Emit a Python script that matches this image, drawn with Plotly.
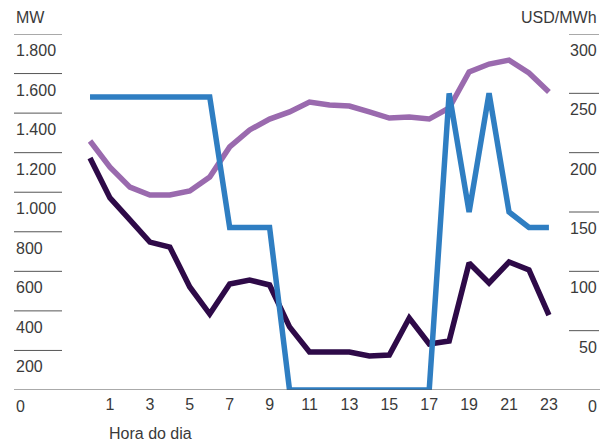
import plotly.graph_objects as go

# horas do dia (0 a 23)
horas = list(range(24))

# MW - linha roxa clara
demanda_mw = [1259, 1127, 1026, 986, 986, 1006, 1077, 1229, 1315, 1370, 1406, 1456,
              1441, 1436, 1406, 1375, 1380, 1370, 1426, 1608, 1648, 1668, 1603, 1507]
# MW - linha roxa escura
geracao_mw = [1173, 971, 860, 748, 723, 521, 384, 536, 556, 531, 319, 192,
              192, 192, 172, 177, 364, 233, 248, 642, 541, 647, 607, 379]
# USD/MWh - linha azul
preco_usd = [247, 247, 247, 247, 247, 247, 247, 137, 137, 137, 0, 0,
             0, 0, 0, 0, 0, 0, 250, 150, 250, 150, 137, 137]

x_ticks = [1, 3, 5, 7, 9, 11, 13, 15, 17, 19, 21, 23]
mw_ticks = [0, 200, 400, 600, 800, 1000, 1200, 1400, 1600, 1800]
mw_labels = ["0", "200", "400", "600", "800", "1.000", "1.200", "1.400", "1.600", "1.800"]
usd_ticks = [0, 50, 100, 150, 200, 250, 300]
usd_labels = ["0", "50", "100", "150", "200", "250", "300"]

W, H = 608, 446
FONT = "Liberation Sans, Arial, sans-serif"
TXT = "#3a3a3a"

fig = go.Figure()

fig.add_trace(go.Scatter(x=horas, y=demanda_mw, mode="lines", yaxis="y",
                         line=dict(color="#9A6AAE", width=5.5)))
fig.add_trace(go.Scatter(x=horas, y=geracao_mw, mode="lines", yaxis="y",
                         line=dict(color="#2E0A48", width=5.5)))
fig.add_trace(go.Scatter(x=horas, y=preco_usd, mode="lines", yaxis="y2",
                         line=dict(color="#2F7EC2", width=5.5)))

shapes = []
annots = []

# linhas curtas + rótulos do eixo esquerdo (MW)
for v, lab in zip(mw_ticks, mw_labels):
    if v > 0:
        shapes.append(dict(type="line", xref="paper", yref="y", x0=14 / W, x1=62 / W,
                           y0=v, y1=v, line=dict(color="#555555", width=1)))
    annots.append(dict(text=lab, xref="paper", yref="y", x=14 / W, y=v,
                       xanchor="left", yanchor="top", yshift=-6, showarrow=False,
                       font=dict(size=16, color=TXT, family=FONT)))

# linhas curtas + rótulos do eixo direito (USD/MWh)
for v, lab in zip(usd_ticks, usd_labels):
    if v > 0:
        shapes.append(dict(type="line", xref="paper", yref="y2", x0=569 / W, x1=599 / W,
                           y0=v, y1=v, line=dict(color="#555555", width=1)))
    annots.append(dict(text=lab, xref="paper", yref="y2", x=599 / W, y=v,
                       xanchor="right", yanchor="top", yshift=-6, showarrow=False,
                       font=dict(size=16, color=TXT, family=FONT)))

# linha base
shapes.append(dict(type="line", xref="paper", yref="y", x0=14 / W, x1=600 / W,
                   y0=0, y1=0, line=dict(color="#555555", width=1)))

# títulos dos eixos
annots.append(dict(text="MW", xref="paper", yref="paper", x=14 / W, y=(H - 17) / H,
                   xanchor="left", yanchor="middle", showarrow=False,
                   font=dict(size=16, color=TXT, family=FONT)))
annots.append(dict(text="USD/MWh", xref="paper", yref="paper", x=599 / W, y=(H - 17) / H,
                   xanchor="right", yanchor="middle", showarrow=False,
                   font=dict(size=16, color=TXT, family=FONT)))
annots.append(dict(text="Hora do dia", xref="paper", yref="paper", x=107 / W, y=(H - 433) / H,
                   xanchor="left", yanchor="middle", showarrow=False,
                   font=dict(size=16, color=TXT, family=FONT)))

fig.update_layout(
    width=W, height=H,
    margin=dict(l=0, r=0, t=0, b=0),
    paper_bgcolor="white", plot_bgcolor="white",
    showlegend=False,
    xaxis=dict(domain=[14 / W, 600 / W], range=[-3.81, 25.56],
               tickvals=x_ticks, ticktext=[str(t) for t in x_ticks],
               showgrid=False, zeroline=False, showline=False, ticks="",
               ticklabelstandoff=3,
               tickfont=dict(size=16, color=TXT, family=FONT)),
    yaxis=dict(domain=[(H - 390) / H, (H - 34) / H], range=[0, 1800], visible=False),
    yaxis2=dict(domain=[(H - 390) / H, (H - 34) / H], range=[0, 300], visible=False,
                overlaying="y", anchor="x"),
    shapes=shapes,
    annotations=annots,
)

fig.write_html("out.html", config={"displayModeBar": False})

# tira a margem padrão do body para o gráfico ocupar a janela toda
with open("out.html", encoding="utf-8") as f:
    html = f.read()
html = html.replace("<head>", "<head><style>body{margin:0;overflow:hidden;}</style>", 1)
with open("out.html", "w", encoding="utf-8") as f:
    f.write(html)
